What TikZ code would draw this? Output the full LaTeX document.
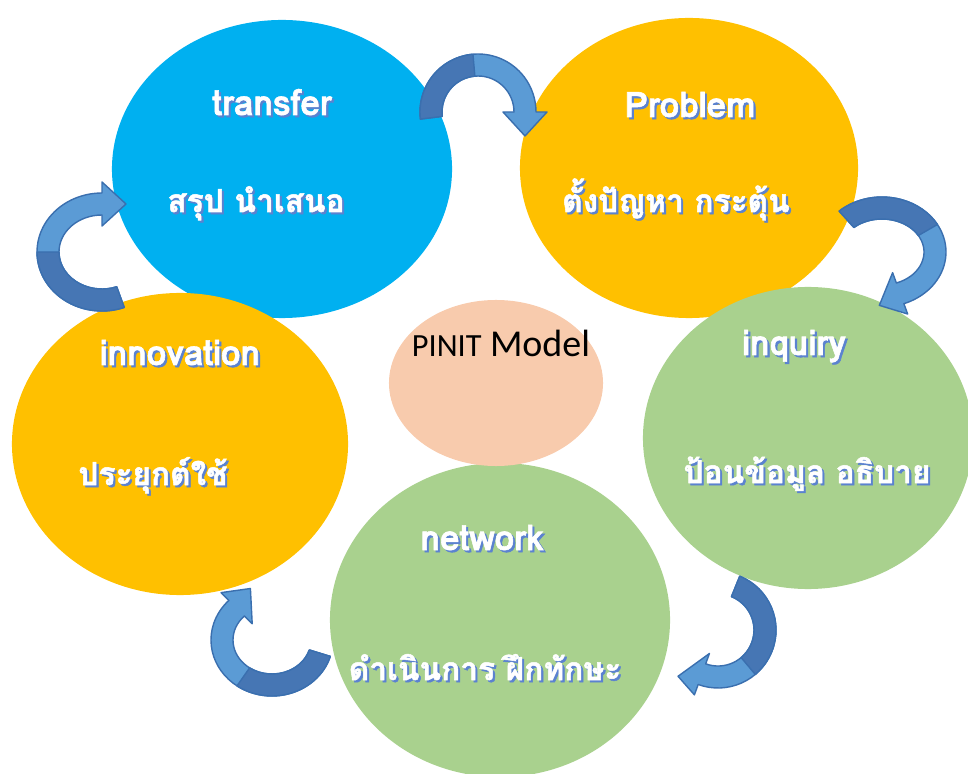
\documentclass[tikz,border=0pt]{standalone}
\usepackage{fontspec}
\setmainfont{Carlito}
\newfontfamily\thaifont[Script=Thai, FakeBold=1.6]{Loma}
\usetikzlibrary{calc,shapes.geometric}

\definecolor{skyblue}{HTML}{00B0F0}
\definecolor{amber}{HTML}{FFC000}
\definecolor{sage}{HTML}{A9D18E}
\definecolor{peach}{HTML}{F8CBAD}
\definecolor{arrowlight}{HTML}{5B9BD5}
\definecolor{arrowdark}{HTML}{4676B4}
\definecolor{arrowline}{HTML}{3A6FAF}
\definecolor{shadowblue}{HTML}{5B82D0}

\tikzset{
  bubble/.style={ellipse, inner sep=0pt, outer sep=0pt},
  labeltext/.style={anchor=base, text=white, inner sep=0pt,
    font=\thaifont\bfseries\fontsize{22.5}{26}\selectfont},
  latintext/.style={labeltext, font=\thaifont\bfseries\fontsize{25}{28}\selectfont},
  shadowcopy/.style={text=shadowblue, xshift=1.5pt, yshift=-1.5pt},
  arrowbody/.style={fill=arrowlight, draw=arrowline, line width=1pt, line join=round},
  arrowshade/.style={fill=arrowdark, draw=arrowline, line width=1pt, line join=round}
}

% curved block arrow: centre, x radius, y radius, start, split, end, tip direction
\def\bw{11}\def\hw{22}\def\hl{24}
\newcommand\bentarrow[7]{%
  \pgfmathsetmacro\rxo{#2+\bw}\pgfmathsetmacro\ryo{#3+\bw}%
  \pgfmathsetmacro\rxi{#2-\bw}\pgfmathsetmacro\ryi{#3-\bw}%
  \pgfmathsetmacro\rxh{#2+\hw}\pgfmathsetmacro\ryh{#3+\hw}%
  \pgfmathsetmacro\rxt{#2-\hw}\pgfmathsetmacro\ryt{#3-\hw}%
  \filldraw[arrowbody] ($#1+(#4:{\rxo} and {\ryo})$)
    arc[start angle=#4, end angle=#6, x radius=\rxo, y radius=\ryo]
    -- ($#1+(#6:{\rxh} and {\ryh})$)
    -- ($#1+(#6:{#2} and {#3})+(#7:\hl)$)
    -- ($#1+(#6:{\rxt} and {\ryt})$)
    -- ($#1+(#6:{\rxi} and {\ryi})$)
    arc[start angle=#6, end angle=#4, x radius=\rxi, y radius=\ryi] -- cycle;
  \filldraw[arrowshade] ($#1+(#4:{\rxo} and {\ryo})$)
    arc[start angle=#4, end angle=#5, x radius=\rxo, y radius=\ryo]
    -- ($#1+(#5:{\rxi} and {\ryi})$)
    arc[start angle=#5, end angle=#4, x radius=\rxi, y radius=\ryi] -- cycle;
}

\newcommand\shadowlabel[4]{%
  \node[#4, shadowcopy] at #1 {#3};
  \node[#4] (#2) at #1 {#3};
}

\begin{document}
\begin{tikzpicture}[x=0.025cm, y=-0.025cm]
  \useasboundingbox (0,0) rectangle (968,774);
  \clip (0,0) rectangle (968,774);

  \node[bubble, fill=skyblue, minimum width=8.5cm, minimum height=7.45cm] (transfer) at (282,169) {};
  \node[bubble, fill=amber, minimum width=8.45cm, minimum height=7.5cm] (problem) at (689,168) {};
  \node[bubble, fill=sage, minimum width=8.25cm, minimum height=7.55cm] (inquiry) at (808,438) {};
  \node[bubble, fill=sage, minimum width=8.5cm, minimum height=7.85cm] (network) at (500,620) {};
  \node[bubble, fill=amber, minimum width=8.4cm, minimum height=7.55cm] (innovation) at (180,444) {};
  \node[bubble, fill=peach, minimum width=5.35cm, minimum height=4.15cm] (pinit) at (496,383) {};

  \node[anchor=base, inner sep=0pt] (model) at (501,357)
    {\fontsize{23}{26}\selectfont PINIT\hspace{6pt}\fontsize{27}{30}\selectfont Model};

  \shadowlabel{(272,115)}{transferen}{transfer}{latintext}
  \shadowlabel{(256,212)}{transferth}{สรุป นำเสนอ}{labeltext}
  \shadowlabel{(690,117)}{problemen}{Problem}{latintext}
  \shadowlabel{(676,212)}{problemth}{ตั้งปัญหา กระตุ้น}{labeltext}
  \shadowlabel{(794,355)}{inquiryen}{inquiry}{latintext}
  \shadowlabel{(807,483)}{inquiryth}{ป้อนข้อมูล อธิบาย}{labeltext}
  \shadowlabel{(482,550)}{networken}{network}{latintext}
  \shadowlabel{(485,680)}{networkth}{ดำเนินการ ฝึกทักษะ}{labeltext}
  \shadowlabel{(180,365)}{innovationen}{innovation}{latintext}
  \shadowlabel{(153,485)}{innovationth}{ประยุกต์ใช้}{labeltext}

  \bentarrow{(478,112)}{47}{47}{173}{265}{360}{90}
  \bentarrow{(882,252)}{53}{44}{228}{330}{430}{150}
  \bentarrow{(718,630)}{47}{47}{-68}{50}{110}{175}
  \bentarrow{(272,640)}{50}{45}{17}{125}{225}{305}
  \bentarrow{(102,252)}{54}{48}{70}{180}{270}{0}
\end{tikzpicture}
\end{document}
